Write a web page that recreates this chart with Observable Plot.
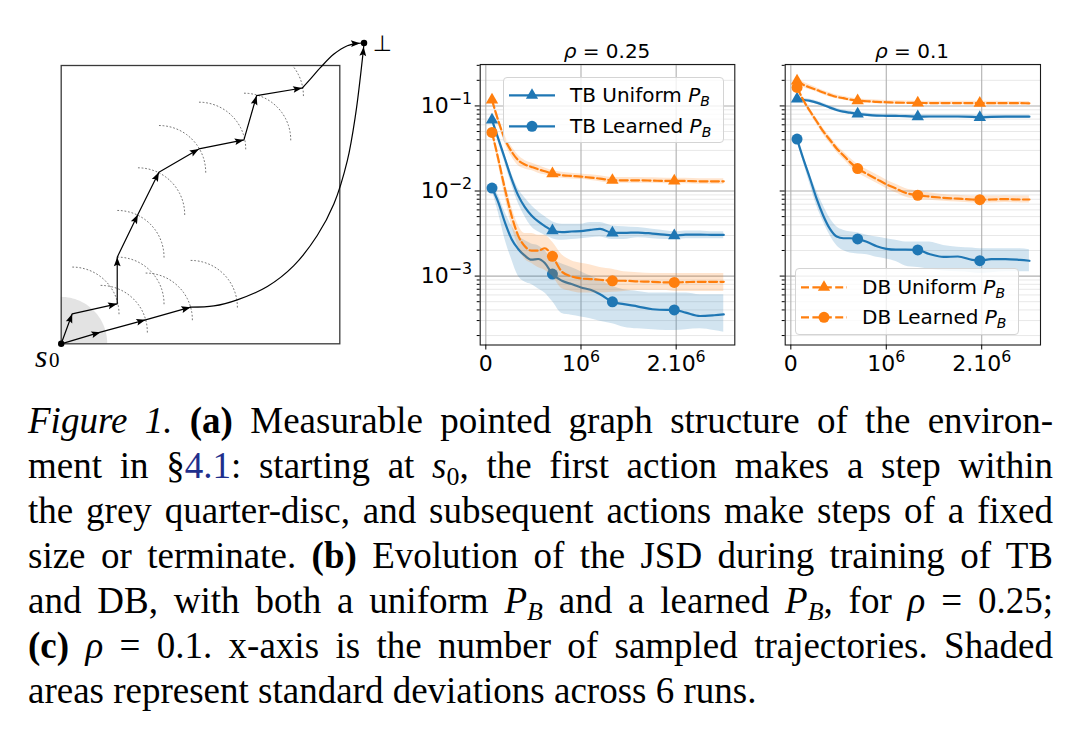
<!DOCTYPE html>
<html>
<head>
<meta charset="utf-8">
<script src="https://cdn.jsdelivr.net/npm/d3@7"></script>
<script src="https://cdn.jsdelivr.net/npm/@observablehq/plot@0.6"></script>
<style>
html,body{margin:0;padding:0;background:#fff;}
body{width:1080px;height:741px;position:relative;overflow:hidden;}
.panel{position:absolute;top:0;}
.title{position:absolute;font-family:"DejaVu Sans";font-size:20px;line-height:20px;text-align:center;width:200px;color:#000;white-space:nowrap}
.legend{position:absolute;border:1px solid #d4d4d4;border-radius:4px;background:rgba(255,255,255,0.8);box-sizing:border-box;font-family:"DejaVu Sans";font-size:20px;color:#000}
.legend .row{position:absolute;left:0;height:24px;display:flex;align-items:center;white-space:nowrap}
.legend .row svg{margin-left:5px;margin-right:15px;overflow:visible}
.legend sub{font-size:0.7em;font-style:italic;vertical-align:-0.3em;line-height:0}
#cap{position:absolute;left:28px;top:398px;width:1025px;font-family:"Liberation Serif","Times New Roman",serif;font-size:37px;line-height:45px;color:#000}
#cap div{text-align:justify;text-align-last:justify;white-space:nowrap}
#cap div.last{text-align-last:left}
#cap sub{font-size:0.7em;line-height:0;vertical-align:-0.28em}
.lnk{color:#1f2f8c}
</style>
</head>
<body>
<div id="a" class="panel" style="left:0px"></div>
<div id="b" class="panel" style="left:400px"></div>
<div id="c" class="panel" style="left:740px"></div>
<div class="title" style="left:507px;top:41px"><i>ρ</i> = 0.25</div>
<div class="title" style="left:812px;top:41px"><i>ρ</i> = 0.1</div>
<div id="legB" class="legend" style="left:503px;top:77px;width:221px;height:66px"></div>
<div id="legC" class="legend" style="left:795px;top:268px;width:224px;height:67px"></div>
<div id="cap">
<div><i>Figure 1.</i> <b>(a)</b> Measurable pointed graph structure of the environ-</div>
<div>ment in §<span class="lnk">4.1</span>: starting at <i>s</i><sub>0</sub>, the first action makes a step within</div>
<div>the grey quarter-disc, and subsequent actions make steps of a fixed</div>
<div>size or terminate. <b>(b)</b> Evolution of the JSD during training of TB</div>
<div>and DB, with both a uniform <i>P<sub>B</sub></i> and a learned <i>P<sub>B</sub></i>, for <i>ρ</i> = 0.25;</div>
<div><b>(c)</b> <i>ρ</i> = 0.1. x-axis is the number of sampled trajectories. Shaded</div>
<div class="last">areas represent standard deviations across 6 runs.</div>
</div>
<script>
// ================= DATA =================
// ---- (a) diagram: unit square environment, coordinates in [0,1] ----
const upperPath = [[0,0],[0.0395,0.1077],[0.2011,0.1436],[0.2011,0.3112],[0.2753,0.4644],[0.3507,0.6164],[0.4943,0.7002],[0.6559,0.7325],[0.7014,0.8917],[0.8654,0.9192]];
const upperEnd  = [[0.8654,0.9192],[0.895,0.952],[0.931,0.993],[0.979,1.041],[1.027,1.071],[1.069,1.080],[1.087,1.081]];
const lowerPath = [[0,0],[0.1412,0.0419],[0.3028,0.0862],[0.4644,0.1317]];
const lowerEnd  = [[0.4644,0.1317],[0.548,0.136],[0.632,0.158],[0.740,0.206],[0.835,0.281],[0.919,0.389],[0.979,0.503],[1.027,0.658],[1.057,0.826],[1.075,0.969],[1.084,1.05],[1.087,1.081]];
const startState = [0,0];
const sinkState = [1.087,1.081];
const stepSize = 0.168;
const discRadius = 0.167;

// ---- (b), (c): number of sampled trajectories and log10(JSD) ----
const trajectories = [65000,130000,200000,270000,340000,410000,480000,550000,620000,700000,800000,900000,1000000,1100000,1200000,1330000,1450000,1600000,1750000,1900000,1980000,2100000,2250000,2400000,2500000];
const markerIdx = [0,9,15,20];
const xTicks = [0,1000000,2000000];
const xTickLabels = ["0","10^6","2.10^6"];
const yTicks = [1e-1,1e-2,1e-3];
const yTickLabels = ["10^-1","10^-2","10^-3"];

// rho = 0.25
const b_TBU    = [-1.165,-1.382,-1.618,-1.854,-2.051,-2.189,-2.287,-2.358,-2.413,-2.465,-2.484,-2.476,-2.472,-2.457,-2.445,-2.492,-2.492,-2.488,-2.5,-2.516,-2.524,-2.512,-2.512,-2.516,-2.516];
const b_TBU_hi = [-1.14,-1.35,-1.57,-1.79,-1.97,-2.08,-2.17,-2.24,-2.30,-2.36,-2.39,-2.39,-2.39,-2.37,-2.37,-2.41,-2.42,-2.43,-2.45,-2.47,-2.48,-2.47,-2.47,-2.48,-2.48];
const b_TBU_lo = [-1.19,-1.42,-1.67,-1.92,-2.14,-2.30,-2.42,-2.48,-2.52,-2.56,-2.58,-2.57,-2.56,-2.55,-2.54,-2.57,-2.57,-2.55,-2.56,-2.57,-2.57,-2.56,-2.56,-2.56,-2.56];
const b_TBL    = [-1.965,-2.13,-2.366,-2.563,-2.681,-2.76,-2.807,-2.799,-2.846,-2.976,-3.055,-3.094,-3.134,-3.161,-3.213,-3.303,-3.33,-3.358,-3.39,-3.398,-3.398,-3.43,-3.469,-3.46,-3.45];
const b_TBL_hi = [-1.933,-2.051,-2.248,-2.406,-2.524,-2.583,-2.622,-2.642,-2.701,-2.80,-2.858,-2.90,-2.95,-3.0,-3.05,-3.12,-3.16,-3.18,-3.2,-3.2,-3.2,-3.2,-3.22,-3.22,-3.22];
const b_TBL_lo = [-1.992,-2.248,-2.563,-2.8,-3.0,-3.07,-3.1,-3.15,-3.2,-3.3,-3.44,-3.46,-3.48,-3.5,-3.53,-3.56,-3.6,-3.62,-3.63,-3.64,-3.64,-3.63,-3.62,-3.64,-3.66];
const b_DBU    = [-0.93,-1.17,-1.39,-1.535,-1.638,-1.689,-1.717,-1.744,-1.768,-1.795,-1.815,-1.823,-1.831,-1.843,-1.854,-1.874,-1.874,-1.874,-1.878,-1.882,-1.882,-1.882,-1.886,-1.886,-1.886];
const b_DBU_hi = [-0.91,-1.135,-1.34,-1.475,-1.58,-1.64,-1.67,-1.70,-1.73,-1.76,-1.78,-1.79,-1.80,-1.81,-1.82,-1.84,-1.84,-1.84,-1.845,-1.85,-1.85,-1.85,-1.855,-1.855,-1.855];
const b_DBU_lo = [-0.95,-1.205,-1.44,-1.595,-1.70,-1.74,-1.76,-1.79,-1.81,-1.83,-1.85,-1.86,-1.865,-1.875,-1.89,-1.91,-1.91,-1.91,-1.91,-1.915,-1.915,-1.915,-1.92,-1.92,-1.92];
const b_DBL    = [-1.311,-1.618,-1.972,-2.287,-2.524,-2.65,-2.701,-2.701,-2.673,-2.768,-2.949,-3.004,-3.028,-3.035,-3.043,-3.055,-3.055,-3.063,-3.067,-3.075,-3.075,-3.071,-3.067,-3.067,-3.067];
const b_DBL_hi = [-1.28,-1.55,-1.88,-2.18,-2.40,-2.50,-2.50,-2.52,-2.52,-2.60,-2.75,-2.82,-2.85,-2.87,-2.90,-2.92,-2.95,-2.96,-2.97,-2.97,-2.97,-2.97,-2.97,-2.97,-2.97];
const b_DBL_lo = [-1.34,-1.68,-2.06,-2.40,-2.65,-2.80,-2.85,-2.90,-2.93,-3.0,-3.15,-3.18,-3.2,-3.2,-3.2,-3.19,-3.18,-3.17,-3.17,-3.17,-3.18,-3.18,-3.18,-3.18,-3.18];

// rho = 0.1
const c_TBU    = [-0.917,-0.929,-0.941,-0.961,-0.988,-1.02,-1.047,-1.067,-1.079,-1.094,-1.106,-1.114,-1.116,-1.118,-1.12,-1.126,-1.124,-1.124,-1.124,-1.128,-1.134,-1.128,-1.126,-1.126,-1.126];
const c_TBU_hi = [-0.897,-0.909,-0.921,-0.941,-0.968,-1.0,-1.027,-1.047,-1.059,-1.074,-1.086,-1.094,-1.096,-1.098,-1.1,-1.106,-1.104,-1.104,-1.104,-1.108,-1.114,-1.108,-1.106,-1.106,-1.106];
const c_TBU_lo = [-0.937,-0.949,-0.961,-0.981,-1.008,-1.04,-1.067,-1.087,-1.099,-1.114,-1.126,-1.134,-1.136,-1.138,-1.14,-1.146,-1.144,-1.144,-1.144,-1.148,-1.154,-1.148,-1.146,-1.146,-1.146];
const c_TBL    = [-1.39,-1.62,-1.85,-2.09,-2.29,-2.445,-2.535,-2.555,-2.555,-2.563,-2.6,-2.65,-2.68,-2.69,-2.69,-2.693,-2.74,-2.775,-2.77,-2.81,-2.819,-2.80,-2.80,-2.81,-2.82];
const c_TBL_hi = [-1.37,-1.58,-1.80,-2.0,-2.17,-2.32,-2.42,-2.46,-2.48,-2.49,-2.52,-2.54,-2.56,-2.58,-2.6,-2.6,-2.6,-2.64,-2.66,-2.67,-2.68,-2.68,-2.68,-2.68,-2.69];
const c_TBL_lo = [-1.41,-1.66,-1.92,-2.17,-2.36,-2.52,-2.64,-2.70,-2.73,-2.74,-2.75,-2.78,-2.80,-2.83,-2.88,-2.9,-2.92,-2.94,-2.95,-2.96,-2.97,-2.96,-2.95,-2.95,-2.95];
const c_DBU    = [-0.705,-0.75,-0.783,-0.811,-0.843,-0.87,-0.894,-0.909,-0.925,-0.937,-0.945,-0.953,-0.957,-0.961,-0.963,-0.965,-0.966,-0.966,-0.966,-0.967,-0.967,-0.967,-0.968,-0.968,-0.969];
const c_DBU_hi = [-0.67,-0.72,-0.755,-0.785,-0.818,-0.846,-0.871,-0.887,-0.903,-0.915,-0.923,-0.931,-0.935,-0.94,-0.942,-0.944,-0.945,-0.945,-0.945,-0.946,-0.946,-0.946,-0.947,-0.947,-0.948];
const c_DBU_lo = [-0.74,-0.78,-0.811,-0.837,-0.868,-0.894,-0.917,-0.931,-0.947,-0.959,-0.967,-0.975,-0.979,-0.982,-0.984,-0.986,-0.987,-0.987,-0.987,-0.988,-0.988,-0.988,-0.989,-0.989,-0.99];
const c_DBL    = [-0.783,-0.93,-1.06,-1.18,-1.30,-1.40,-1.50,-1.58,-1.66,-1.736,-1.80,-1.86,-1.92,-1.97,-2.02,-2.05,-2.065,-2.08,-2.09,-2.10,-2.102,-2.10,-2.095,-2.10,-2.10];
const c_DBL_hi = [-0.763,-0.905,-1.03,-1.145,-1.262,-1.36,-1.458,-1.535,-1.612,-1.686,-1.75,-1.81,-1.87,-1.92,-1.97,-2.0,-2.02,-2.04,-2.05,-2.06,-2.062,-2.06,-2.055,-2.06,-2.06];
const c_DBL_lo = [-0.803,-0.955,-1.09,-1.215,-1.338,-1.44,-1.542,-1.625,-1.708,-1.786,-1.85,-1.91,-1.97,-2.02,-2.07,-2.1,-2.11,-2.12,-2.13,-2.14,-2.142,-2.14,-2.135,-2.14,-2.14];

const BLUE = "#1f77b4", ORANGE = "#ff7f0e";
const DASH = "8,3.4";

// ================= (a) DIAGRAM =================
(function(){
  const P = d => ({x: d[0], y: d[1]});
  const disc = d3.range(0, 91, 3).map(a => ({x: discRadius*Math.cos(a*Math.PI/180), y: discRadius*Math.sin(a*Math.PI/180)}));
  const centers = upperPath.slice(1).concat(lowerPath.slice(1));
  const arcs = [];
  centers.forEach(([cx, cy], i) => {
    for (let a = 0; a <= 90; a += 3) {
      const t = a*Math.PI/180;
      arcs.push({id: i, x: cx + stepSize*Math.cos(t), y: cy + stepSize*Math.sin(t)});
    }
  });
  function heads(path, onlyLast, back) {
    const out = [];
    for (let i = onlyLast ? path.length - 1 : 1; i < path.length; i++) {
      const [x0, y0] = path[i-1], [x1, y1] = path[i];
      const th = Math.atan2(y1 - y0, x1 - x0);
      const b = back || 0;
      out.push({x: x1 - b*Math.cos(th), y: y1 - b*Math.sin(th), rot: 90 - th*180/Math.PI});
    }
    return out;
  }
  const arrowHeads = heads(upperPath).concat(heads(lowerPath), heads(upperEnd, true, 0.014), heads(lowerEnd, true, 0.014));
  const arrowSymbol = {
    draw(ctx, size) {
      const r = Math.sqrt(size/Math.PI);
      const L = 2.7*r, w = 1.0*r;
      ctx.moveTo(0, 0);
      ctx.lineTo(-w, L);
      ctx.lineTo(0, 0.82*L);
      ctx.lineTo(w, L);
      ctx.closePath();
    }
  };
  const pl = Plot.plot({
    width: 400, height: 380,
    marginLeft: 60.7, marginRight: 60.7, marginTop: 65, marginBottom: 36.7,
    x: {domain: [0, 1], axis: null},
    y: {domain: [0, 1], axis: null},
    style: {background: "transparent", overflow: "visible"},
    marks: [
      Plot.areaY(disc, {x: "x", y: "y", fill: "#e3e3e3"}),
      Plot.line(arcs, {x: "x", y: "y", z: "id", stroke: "#666", strokeWidth: 0.9, strokeDasharray: "1,2.6", clip: true}),
      Plot.frame({stroke: "#3a3a3a", strokeWidth: 1.3}),
      Plot.line(upperPath.map(P), {x: "x", y: "y", stroke: "#000", strokeWidth: 1.2}),
      Plot.line(upperEnd.map(P), {x: "x", y: "y", stroke: "#000", strokeWidth: 1.2, curve: "catmull-rom"}),
      Plot.line(lowerPath.map(P), {x: "x", y: "y", stroke: "#000", strokeWidth: 1.2}),
      Plot.line(lowerEnd.map(P), {x: "x", y: "y", stroke: "#000", strokeWidth: 1.2, curve: "catmull-rom"}),
      Plot.dot(arrowHeads, {x: "x", y: "y", rotate: "rot", symbol: arrowSymbol, r: 3.4, fill: "#000"}),
      Plot.dot([startState, sinkState].map(P), {x: "x", y: "y", r: 3.2, fill: "#000"}),
      Plot.text([{x: -0.094, y: -0.046, t: "s"}], {x: "x", y: "y", text: "t", textAnchor: "start", fontSize: 32, fontStyle: "italic", fontFamily: "Liberation Serif", fill: "#000"}),
      Plot.text([{x: -0.044, y: -0.06, t: "0"}], {x: "x", y: "y", text: "t", textAnchor: "start", fontSize: 21, fontFamily: "Liberation Serif", fill: "#000"}),
      Plot.text([{x: 1.1526, y: 1.0758, t: "⊥"}], {x: "x", y: "y", text: "t", fontSize: 22, fontFamily: "DejaVu Sans", fill: "#000"})
    ]
  });
  document.getElementById("a").appendChild(pl);
})();

// ================= (b), (c) PANELS =================
const minorTicks = [];
[1e-4, 1e-3, 1e-2, 1e-1].forEach(p => { for (let k = 2; k <= 9; k++) minorTicks.push(k*p); });

function rows(mean, hi, lo) {
  return trajectories.map((x, i) => ({x, i, y: Math.pow(10, mean[i]), hi: Math.pow(10, hi[i]), lo: Math.pow(10, lo[i])}));
}

function supify(svg) {
  d3.select(svg).selectAll("text").each(function() {
    const t = this.textContent;
    if (t.indexOf("^") < 0) return;
    const [base, exp] = t.split("^");
    const sel = d3.select(this);
    sel.text(null);
    sel.append("tspan").text(base);
    sel.append("tspan").attr("font-size", "0.72em").attr("dy", "-9px").text(exp.replace("-", "\u2212"));
  });
}

function panel(el, series, showYLabels, mLeft, mRight) {
  const ydom = [Math.pow(10, -3.81), Math.pow(10, -0.513)];
  const minor = minorTicks.filter(v => v > ydom[0] && v < ydom[1]);
  const marks = [
    Plot.ruleY(minor, {stroke: "#e8e8e8", strokeWidth: 1}),
    Plot.ruleY(yTicks, {stroke: "#b0b0b0", strokeWidth: 1.1}),
    Plot.ruleX(xTicks, {stroke: "#b0b0b0", strokeWidth: 1.1})
  ];
  series.forEach(s => {
    const r = rows(s.mean, s.hi, s.lo);
    marks.push(Plot.areaY(r, {x: "x", y1: "lo", y2: "hi", fill: s.color, fillOpacity: 0.2, curve: "monotone-x"}));
    marks.push(Plot.line(r, {x: "x", y: "y", stroke: s.color, strokeWidth: 2.2, strokeDasharray: s.dash, curve: "monotone-x"}));
    marks.push(Plot.dot(r.filter(d => markerIdx.includes(d.i)), {x: "x", y: "y", symbol: s.symbol, r: s.symbol === "triangle" ? 4.6 : 5.5, fill: s.color}));
  });
  marks.push(Plot.frame({stroke: "#1a1a1a", strokeWidth: 1.1}));
  marks.push(Plot.axisY({ticks: yTicks, tickSize: 5, tickPadding: 3, label: null, fontSize: 22, fontFamily: "DejaVu Sans",
    tickFormat: d => showYLabels ? yTickLabels[yTicks.indexOf(d)] : ""}));
  marks.push(Plot.axisY({ticks: minor, tickSize: 3, label: null, tickFormat: () => ""}));
  marks.push(Plot.axisX({ticks: xTicks, tickSize: 5, tickPadding: 5, label: null, fontSize: 22, fontFamily: "DejaVu Sans",
    tickFormat: d => xTickLabels[xTicks.indexOf(d)]}));
  const pl = Plot.plot({
    width: 340, height: 380,
    marginLeft: mLeft, marginRight: mRight, marginTop: 64, marginBottom: 35.5,
    x: {domain: [-59000, 2616000], label: null},
    y: {type: "log", domain: ydom, label: null},
    style: {background: "transparent", overflow: "visible", color: "#000", fontFamily: "DejaVu Sans"},
    marks
  });
  supify(pl);
  document.getElementById(el).appendChild(pl);
}

const seriesB = [
  {mean: b_TBU, hi: b_TBU_hi, lo: b_TBU_lo, color: BLUE, dash: null, symbol: "triangle"},
  {mean: b_TBL, hi: b_TBL_hi, lo: b_TBL_lo, color: BLUE, dash: null, symbol: "circle"},
  {mean: b_DBU, hi: b_DBU_hi, lo: b_DBU_lo, color: ORANGE, dash: DASH, symbol: "triangle"},
  {mean: b_DBL, hi: b_DBL_hi, lo: b_DBL_lo, color: ORANGE, dash: DASH, symbol: "circle"}
];
const seriesC = [
  {mean: c_TBU, hi: c_TBU_hi, lo: c_TBU_lo, color: BLUE, dash: null, symbol: "triangle"},
  {mean: c_TBL, hi: c_TBL_hi, lo: c_TBL_lo, color: BLUE, dash: null, symbol: "circle"},
  {mean: c_DBU, hi: c_DBU_hi, lo: c_DBU_lo, color: ORANGE, dash: DASH, symbol: "triangle"},
  {mean: c_DBL, hi: c_DBL_hi, lo: c_DBL_lo, color: ORANGE, dash: DASH, symbol: "circle"}
];
panel("b", seriesB, true, 79.7, 5.7);
panel("c", seriesC, false, 44.7, 40);

// ================= LEGENDS =================
function legend(el, entries, tops) {
  const box = document.getElementById(el);
  entries.forEach((e, k) => {
    const row = document.createElement("div");
    row.className = "row";
    row.style.top = tops[k] + "px";
    const dash = e.dash ? ` stroke-dasharray="${e.dash}"` : "";
    const mk = e.symbol === "triangle"
      ? `<path d="M23,1.2 L29.1,11.8 L16.9,11.8 Z" fill="${e.color}"/>`
      : `<circle cx="23" cy="8.3" r="5.5" fill="${e.color}"/>`;
    row.innerHTML = `<svg width="46" height="16"><line x1="0" x2="46" y1="8.3" y2="8.3" stroke="${e.color}" stroke-width="2.2"${dash}/>${mk}</svg><span>${e.label} <i>P</i><sub>B</sub></span>`;
    box.appendChild(row);
  });
}
legend("legB", [
  {label: "TB Uniform", color: BLUE, dash: null, symbol: "triangle"},
  {label: "TB Learned", color: BLUE, dash: null, symbol: "circle"}
], [4.5, 36]);
legend("legC", [
  {label: "DB Uniform", color: ORANGE, dash: DASH, symbol: "triangle"},
  {label: "DB Learned", color: ORANGE, dash: DASH, symbol: "circle"}
], [5.5, 35.5]);
</script>
</body>
</html>
